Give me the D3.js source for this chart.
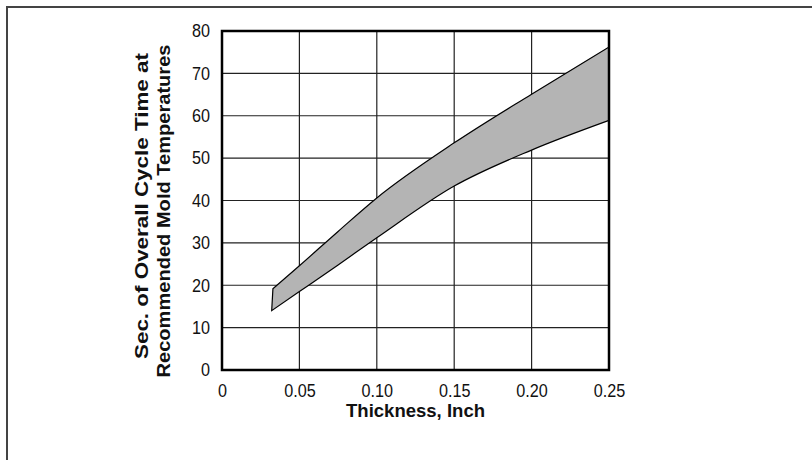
<!DOCTYPE html>
<html>
<head>
<meta charset="utf-8">
<script src="https://cdn.jsdelivr.net/npm/d3@7"></script>
<style>
  html, body { margin: 0; padding: 0; background: #fff; }
  svg { display: block; }
</style>
</head>
<body>
<svg id="chart" width="812" height="460"></svg>
<script>
// Thickness (inch) and cycle-time band edges (seconds)
const upperThickness = [0.0329, 0.05, 0.075, 0.10, 0.15, 0.20, 0.25];
const upperSeconds   = [19.2, 24.6, 32.7, 40.6, 53.6, 65.1, 76.2];
const lowerThickness = [0.0321, 0.05, 0.075, 0.10, 0.15, 0.20, 0.25];
const lowerSeconds   = [14.0, 18.5, 24.8, 31.2, 43.4, 51.9, 58.9];

const xTicks = [0, 0.05, 0.10, 0.15, 0.20, 0.25];
const xTickLabels = ["0", "0.05", "0.10", "0.15", "0.20", "0.25"];
const yTicks = [0, 10, 20, 30, 40, 50, 60, 70, 80];

const xTitle = "Thickness, Inch";
const yTitleLines = ["Sec. of Overall Cycle Time at", "Recommended Mold Temperatures"];

const FONT = '"Liberation Sans", Arial, sans-serif';
const NARROW = 0.9;   // horizontal squeeze for a condensed look

const svg = d3.select("#chart");

// outer frame (top and left edges visible)
svg.append("path")
  .attr("d", "M7,470 L7,7 L820,7")
  .attr("fill", "none")
  .attr("stroke", "#444")
  .attr("stroke-width", 2);

const plot = { left: 222, right: 609, top: 31, bottom: 370 };

const x = d3.scaleLinear().domain([0, 0.25]).range([plot.left, plot.right]);
const y = d3.scaleLinear().domain([0, 80]).range([plot.bottom, plot.top]);

// grid
const grid = svg.append("g");
grid.selectAll("line.v").data(xTicks.slice(1, -1)).join("line")
  .attr("x1", d => x(d)).attr("x2", d => x(d))
  .attr("y1", plot.top).attr("y2", plot.bottom)
  .attr("stroke", "#222").attr("stroke-width", 1.2);
grid.selectAll("line.h").data(yTicks.slice(1, -1)).join("line")
  .attr("x1", plot.left).attr("x2", plot.right)
  .attr("y1", d => y(d)).attr("y2", d => y(d))
  .attr("stroke", "#222").attr("stroke-width", 1.2);

// band between upper and lower edges
const upperPts = upperThickness.map((t, i) => [x(t), y(upperSeconds[i])]);
const lowerPts = lowerThickness.map((t, i) => [x(t), y(lowerSeconds[i])]);
const curve = d3.line().curve(d3.curveMonotoneX);
const upperPath = curve(upperPts);
const lowerRevPath = curve(lowerPts.slice().reverse());
svg.append("path")
  .attr("d", upperPath + "L" + lowerRevPath.slice(1) + "Z")
  .attr("fill", "#b4b4b4")
  .attr("stroke", "#000")
  .attr("stroke-width", 1.2)
  .attr("stroke-linejoin", "miter");

// plot frame
svg.append("rect")
  .attr("x", plot.left).attr("y", plot.top)
  .attr("width", plot.right - plot.left).attr("height", plot.bottom - plot.top)
  .attr("fill", "none").attr("stroke", "#000").attr("stroke-width", 2.5);

// axes (labels only)
const xAxis = d3.axisBottom(x).tickValues(xTicks)
  .tickFormat((d, i) => xTickLabels[i]).tickSize(0).tickPadding(14);
const gx = svg.append("g").attr("transform", `translate(0,${plot.bottom})`).call(xAxis);
gx.select(".domain").remove();
gx.attr("font-size", null).attr("font-family", null);
gx.selectAll("text")
  .style("font-size", "18px").style("font-family", FONT).attr("fill", "#111")
  .attr("transform", `scale(${NARROW},1)`);

const yPad = 12;
const yAxis = d3.axisLeft(y).tickValues(yTicks).tickSize(0).tickPadding(yPad);
const gy = svg.append("g").attr("transform", `translate(${plot.left},0)`).call(yAxis);
gy.select(".domain").remove();
gy.attr("font-size", null).attr("font-family", null);
gy.selectAll("text")
  .style("font-size", "18px").style("font-family", FONT).attr("fill", "#111")
  .attr("x", -yPad / NARROW)
  .attr("transform", `scale(${NARROW},1)`);

// titles
svg.append("text")
  .attr("x", 415.5).attr("y", 417)
  .attr("text-anchor", "middle")
  .style("font-size", "18px").attr("font-weight", "bold")
  .attr("textLength", 139).attr("lengthAdjust", "spacingAndGlyphs")
  .style("font-family", FONT).attr("fill", "#111")
  .text(xTitle);

const yTitlePos = [
  { bx: 148, cy: 206, len: 306 },
  { bx: 170, cy: 211, len: 333 }
];
yTitleLines.forEach((t, i) => {
  const p = yTitlePos[i];
  svg.append("text")
    .attr("transform", `translate(${p.bx},${p.cy}) rotate(-90)`)
    .attr("text-anchor", "middle")
    .style("font-size", "19px").attr("font-weight", "bold")
    .attr("textLength", p.len).attr("lengthAdjust", "spacingAndGlyphs")
    .style("font-family", FONT).attr("fill", "#111")
    .text(t);
});
</script>
</body>
</html>
